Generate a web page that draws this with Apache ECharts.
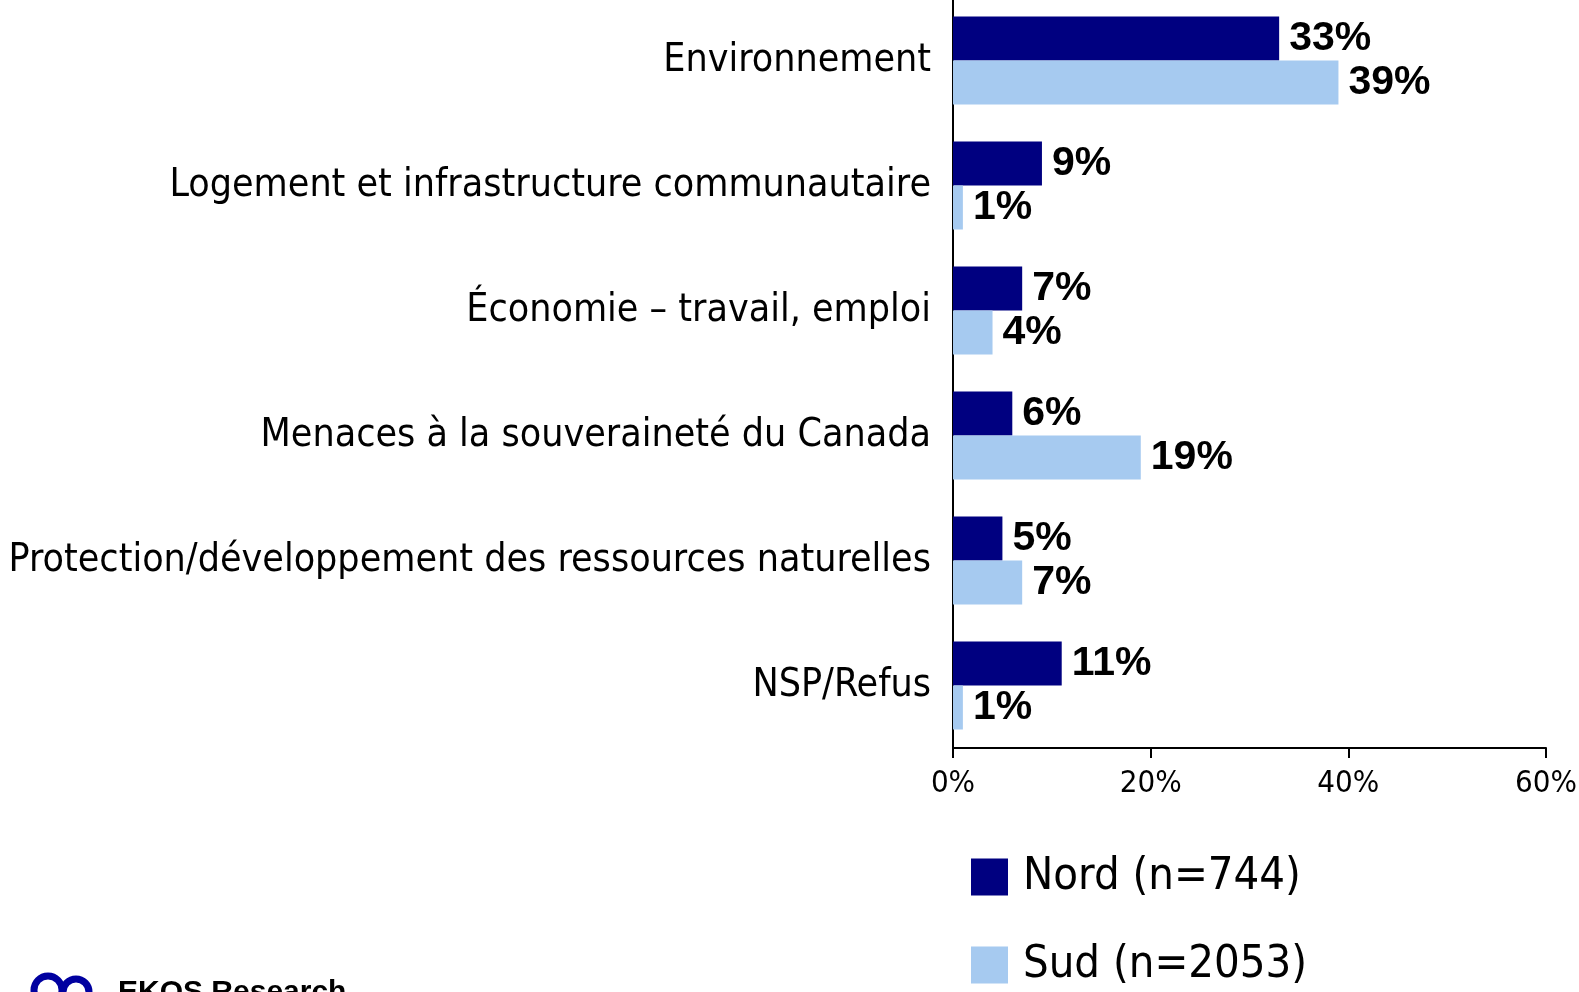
<!DOCTYPE html>
<html>
<head>
<meta charset="utf-8">
<script src="https://cdn.jsdelivr.net/npm/echarts@6/dist/echarts.min.js"></script>
<style>
  html, body { margin: 0; padding: 0; background: #fff; }
  #chart { width: 1579px; height: 992px; }
</style>
</head>
<body>
<div id="chart"></div>
<script>
// categories, top to bottom
const categories = [
  "Environnement",
  "Logement et infrastructure communautaire",
  "Économie – travail, emploi",
  "Menaces à la souveraineté du Canada",
  "Protection/développement des ressources naturelles",
  "NSP/Refus"
];
const seriesNames = ["Nord (n=744)", "Sud (n=2053)"];
const nord = [33, 9, 7, 6, 5, 11];
const sud = [39, 1, 4, 19, 7, 1];
const xTicks = [0, 20, 40, 60];

const narrow = "'DejaVu Sans Condensed', 'Liberation Sans', sans-serif";

const chart = echarts.init(document.getElementById("chart"));

const labelStyle = {
  show: true,
  position: "right",
  distance: 10,
  formatter: "{c}%",
  fontFamily: "Liberation Sans",
  fontWeight: "bold",
  fontSize: 41,
  color: "#000"
};

chart.setOption({
  animation: false,
  grid: { left: 953, right: 33, top: -2, bottom: 244, containLabel: false, outerBoundsMode: "none" },
  xAxis: {
    type: "value",
    min: xTicks[0],
    max: xTicks[xTicks.length - 1],
    interval: 20,
    splitLine: { show: false },
    axisLine: { show: true, lineStyle: { color: "#000", width: 2 } },
    axisTick: { show: true, length: 10, lineStyle: { color: "#000", width: 2 } },
    axisLabel: {
      formatter: "{value}%",
      margin: 20,
      fontFamily: narrow,
      fontSize: 31,
      color: "#000"
    }
  },
  yAxis: {
    type: "category",
    data: categories,
    inverse: true,
    axisLine: { show: true, lineStyle: { color: "#000", width: 2 } },
    axisTick: { show: false },
    axisLabel: {
      margin: 22,
      fontFamily: narrow,
      fontSize: 39,
      color: "#000"
    }
  },
  legend: {
    orient: "vertical",
    left: 971,
    top: 852,
    padding: 0,
    itemWidth: 37,
    itemHeight: 37,
    itemGap: 38,
    icon: "rect",
    selectedMode: false,
    textStyle: {
      fontFamily: narrow,
      fontSize: 45,
      color: "#000",
      padding: [0, 0, 0, 10],
      lineHeight: 50
    },
    data: seriesNames
  },
  series: [
    {
      name: seriesNames[0],
      type: "bar",
      data: nord,
      barGap: "0%",
      barCategoryGap: "29.6%",
      itemStyle: { color: "#000080" },
      label: labelStyle
    },
    {
      name: seriesNames[1],
      type: "bar",
      data: sud,
      itemStyle: { color: "#A6CAF0" },
      label: labelStyle
    }
  ],
  graphic: [
    {
      type: "text",
      left: 118,
      top: 978,
      style: {
        text: "EKOS Research",
        fontFamily: "Liberation Sans",
        fontWeight: "bold",
        fontSize: 30,
        fill: "#000"
      }
    },
    {
      type: "circle",
      shape: { cx: 48, cy: 990, r: 14 },
      style: { fill: "none", stroke: "#0000A0", lineWidth: 7 }
    },
    {
      type: "circle",
      shape: { cx: 76, cy: 992, r: 13 },
      style: { fill: "none", stroke: "#0000A0", lineWidth: 7 }
    }
  ]
});
</script>
</body>
</html>
